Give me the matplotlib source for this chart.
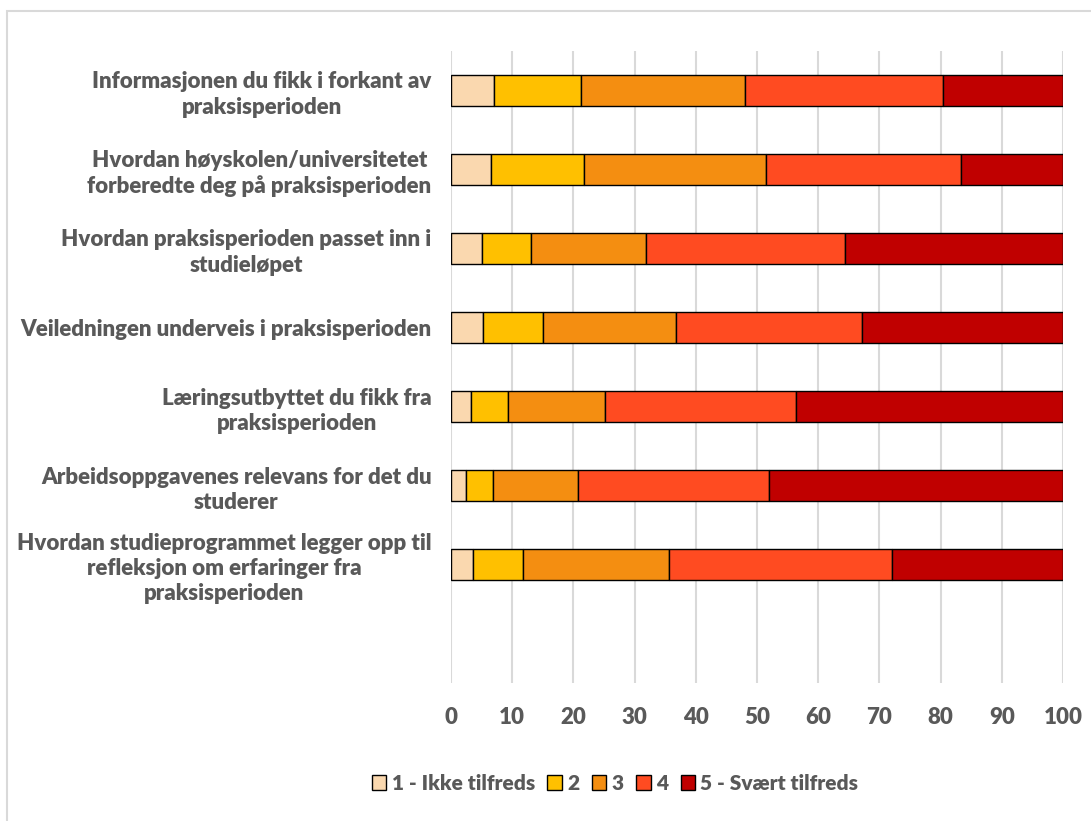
import numpy as np
import matplotlib
matplotlib.use("Agg")
import matplotlib.pyplot as plt
from matplotlib.patches import Rectangle

plt.rcParams['font.family'] = ['Lato', 'DejaVu Sans']

questions = [
    'Informasjonen du fikk i forkant av\npraksisperioden',
    'Hvordan høyskolen/universitetet\nforberedte deg på praksisperioden',
    'Hvordan praksisperioden passet inn i\nstudieløpet',
    'Veiledningen underveis i praksisperioden',
    'Læringsutbyttet du fikk fra\npraksisperioden',
    'Arbeidsoppgavenes relevans for det du\nstuderer',
    'Hvordan studieprogrammet legger opp til\nrefleksjon om erfaringer fra\npraksisperioden',
]
series_names = ['1 - Ikke tilfreds', '2', '3', '4', '5 - Svært tilfreds']

s1 = [7.1, 6.5, 5.1, 5.2, 3.3, 2.5, 3.6]
s2 = [14.1, 15.3, 7.9, 9.9, 6.0, 4.3, 8.2]
s3 = [26.8, 29.7, 18.8, 21.7, 15.8, 14.0, 23.9]
s4 = [32.4, 31.9, 32.6, 30.3, 31.2, 31.2, 36.4]
s5 = [19.6, 16.6, 35.6, 32.9, 43.7, 48.0, 27.9]

colors = ['#FAD8AF', '#FFC000', '#F48E11', '#FF4B21', '#C00000']
text_color = '#595959'

fig = plt.figure(figsize=(10.91, 8.21), dpi=100)
ax = fig.add_axes([451/1091, 1 - 683/821, (1063 - 451)/1091, (683 - 51)/821])

y = np.arange(len(questions))
left = np.zeros(len(questions))
for name, vals, c in zip(series_names, [s1, s2, s3, s4, s5], colors):
    ax.barh(y, vals, left=left, height=0.4, color=c, edgecolor='black',
            linewidth=1.0, label=name, zorder=3)
    left += np.array(vals)

ax.set_xlim(0, 100)
ax.set_ylim(len(questions) + 0.5, -0.5)
ax.set_xticks(np.arange(0, 101, 10))
ax.set_yticks(y)
ax.set_yticklabels(questions, multialignment='center', linespacing=1.25)
ax.xaxis.grid(True, color='#D9D9D9', linewidth=1.5, zorder=0)
for sp in ax.spines.values():
    sp.set_visible(False)
ax.tick_params(axis='both', length=0, labelcolor=text_color, labelsize=16)
ax.tick_params(axis='y', pad=14)
ax.tick_params(axis='x', pad=17)
for t in ax.get_xticklabels() + ax.get_yticklabels():
    t.set_fontweight('heavy')

leg = fig.legend(loc='center', bbox_to_anchor=(615/1091, 1 - 783/821), ncol=5,
                 frameon=False, handlelength=0.7, handleheight=0.7,
                 handletextpad=0.25, columnspacing=0.6,
                 prop={'weight': 'heavy', 'size': 15})
for t in leg.get_texts():
    t.set_color(text_color)

fig.patches.append(Rectangle((7/1091, -0.1), 1.2, 1 - 11/821 + 0.1,
                             transform=fig.transFigure, fill=False,
                             edgecolor='#D9D9D9', linewidth=1.5))

fig.savefig('out.png', dpi=100)
